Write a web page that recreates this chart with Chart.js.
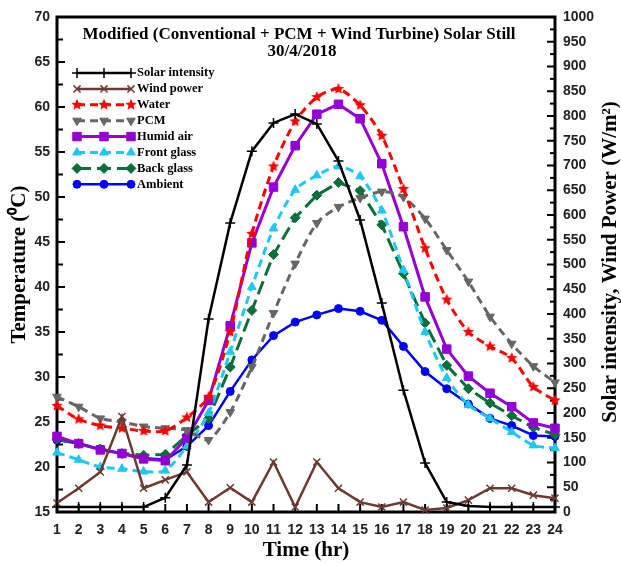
<!DOCTYPE html>
<html>
<head>
<meta charset="utf-8">
<script src="https://cdn.jsdelivr.net/npm/chart.js@4.4.1/dist/chart.umd.min.js"></script>
<style>
html,body{margin:0;padding:0;background:#fff;}
#wrap{width:621px;height:563px;}
</style>
</head>
<body>
<div id="wrap"><canvas id="c" width="621" height="563"></canvas></div>
<script>
// ---- data ----
const hours = [1,2,3,4,5,6,7,8,9,10,11,12,13,14,15,16,17,18,19,20,21,22,23,24];
const solarIntensity = [10,10,10,10,10,29,95,390,584,729,786,804,784,709,590,422,246,99,20,12,10,10,10,10];
const windPower      = [18,48,81,193,48,65,81,20,49,20,101,10,101,48,20,10,20,4,8,24,48,48,34,28];
const waterTemp      = [26.8,25.3,24.6,24.3,24.0,24.0,25.5,27.8,35.0,45.9,53.4,58.4,61.1,62.0,60.2,56.8,50.9,44.3,38.6,35.0,33.4,32.1,28.9,27.4];
const pcmTemp        = [27.8,26.7,25.4,25.0,24.5,24.3,24.1,23.0,26.1,31.1,37.1,42.6,47.1,48.9,49.9,50.6,50.0,47.6,44.1,40.6,36.7,33.7,31.2,29.4];
const humidAirTemp   = [23.4,22.6,21.9,21.5,20.9,20.7,23.2,27.4,35.7,44.9,51.1,55.7,59.2,60.3,58.7,53.7,46.7,38.9,33.1,30.1,28.2,26.7,24.9,24.3];
const frontGlassTemp = [21.6,20.8,20.0,19.8,19.5,19.6,22.3,26.0,32.8,40.0,46.5,50.8,52.4,53.4,52.3,48.5,41.9,35.0,29.9,26.9,25.4,23.9,22.4,22.1];
const backGlassTemp  = [23.1,22.6,22.0,21.5,21.3,21.4,23.5,25.4,31.1,37.4,43.6,47.7,50.2,51.6,50.7,46.9,41.5,36.0,31.3,28.7,27.1,25.7,24.4,23.6];
const ambientTemp    = [23.0,22.6,22.0,21.5,21.0,20.8,22.3,24.6,28.4,31.9,34.6,36.1,36.9,37.6,37.3,36.3,33.4,30.6,28.7,27.0,25.4,24.6,23.5,23.4];

const titleLines = ['Modified (Conventional + PCM + Wind Turbine) Solar Still', '30/4/2018'];
const xTitle = 'Time (hr)';
const yTitle = 'Temperature (\u2070C)';
const y1Title = 'Solar intensity, Wind Power (W/m\u00B2)';

// ---- marker images ----
function starImg(color, r) {
  const c = document.createElement('canvas');
  const s = Math.ceil(r * 2 + 2);
  c.width = s; c.height = s;
  const g = c.getContext('2d');
  g.fillStyle = color;
  g.beginPath();
  for (let i = 0; i < 10; i++) {
    const rr = i % 2 === 0 ? r : r * 0.45;
    const a = -Math.PI / 2 + i * Math.PI / 5;
    const px = s / 2 + rr * Math.cos(a), py = s / 2 + rr * Math.sin(a);
    if (i === 0) g.moveTo(px, py); else g.lineTo(px, py);
  }
  g.closePath(); g.fill();
  return c;
}
const redStar = starImg('#ff0000', 6);

const pts = arr => hours.map((h, i) => ({x: h, y: arr[i]}));

const datasets = [
  {label:'Solar intensity', data: pts(solarIntensity), yAxisID:'y1', borderColor:'#000', backgroundColor:'#000',
   borderWidth:2.5, pointStyle:'cross', pointRadius:5, pointBorderWidth:1.5, tension:0},
  {label:'Wind power', data: pts(windPower), yAxisID:'y1', borderColor:'#6b3a32', backgroundColor:'#6b3a32',
   borderWidth:2.5, pointStyle:'crossRot', pointRadius:5, pointBorderWidth:1.5, tension:0},
  {label:'Water', data: pts(waterTemp), yAxisID:'y', borderColor:'#ff0000', backgroundColor:'#ff0000',
   borderWidth:3, borderDash:[8,5], pointStyle:redStar, pointRadius:6, tension:0.25},
  {label:'PCM', data: pts(pcmTemp), yAxisID:'y', borderColor:'#666666', backgroundColor:'#666666',
   borderWidth:3, borderDash:[8,5], pointStyle:'triangle', rotation:180, pointRadius:5, pointBorderWidth:1, tension:0.25},
  {label:'Humid air', data: pts(humidAirTemp), yAxisID:'y', borderColor:'#9400d3', backgroundColor:'#9400d3',
   borderWidth:3, pointStyle:'rect', pointRadius:6, pointBorderWidth:1, tension:0},
  {label:'Front glass', data: pts(frontGlassTemp), yAxisID:'y', borderColor:'#1ec8f0', backgroundColor:'#1ec8f0',
   borderWidth:3, borderDash:[8,5], pointStyle:'triangle', pointRadius:5, pointBorderWidth:1, tension:0.25},
  {label:'Back glass', data: pts(backGlassTemp), yAxisID:'y', borderColor:'#0b6e3c', backgroundColor:'#0b6e3c',
   borderWidth:3, borderDash:[14,6], pointStyle:'rectRot', pointRadius:5, pointBorderWidth:1, tension:0},
  {label:'Ambient', data: pts(ambientTemp), yAxisID:'y', borderColor:'#0000ff', backgroundColor:'#0000ff',
   borderWidth:2.5, pointStyle:'circle', pointRadius:4, pointBorderWidth:1, tension:0}
];
datasets.forEach(d => { d.clip = false; d.pointBackgroundColor = d.backgroundColor; d.pointBorderColor = d.borderColor; });

const SERIF = "'Liberation Serif', 'Times New Roman', serif";
const SANS = "'Liberation Sans', Arial, sans-serif";

const framePlugin = {
  id: 'frame',
  beforeDatasetsDraw(chart) {
    const {ctx, chartArea: a, scales} = chart;
    ctx.save();
    ctx.strokeStyle = '#000';
    ctx.lineWidth = 2;
    const seg = (x1, y1, x2, y2) => { ctx.beginPath(); ctx.moveTo(x1, y1); ctx.lineTo(x2, y2); ctx.stroke(); };
    for (let v = 15; v <= 70; v += 2.5) {
      const p = scales.y.getPixelForValue(v);
      seg(a.left, p, a.left + (v % 5 === 0 ? 8 : 6), p);
    }
    for (let v = 0; v <= 1000; v += 25) {
      const p = scales.y1.getPixelForValue(v);
      seg(a.right - (v % 50 === 0 ? 8 : 5), p, a.right, p);
    }
    for (let h = 1; h <= 24; h++) {
      const p = scales.x.getPixelForValue(h);
      seg(p, a.bottom, p, a.bottom - 8);
    }
    ctx.lineWidth = 3;
    ctx.strokeRect(a.left, a.top, a.right - a.left, a.bottom - a.top);
    ctx.restore();
  },
  afterDraw(chart) {
    const {ctx, chartArea: a} = chart;
    ctx.save();
    // chart title inside plot
    ctx.fillStyle = '#000';
    ctx.textAlign = 'center';
    ctx.textBaseline = 'middle';
    ctx.font = 'bold 17px ' + SERIF;
    ctx.fillText(titleLines[0], 299, 35);
    ctx.fillText(titleLines[1], 302, 52);
    // right axis title (reads bottom-to-top)
    ctx.save();
    ctx.translate(611, 262);
    ctx.rotate(-Math.PI / 2);
    ctx.font = 'bold 21px ' + SERIF;
    ctx.fillText(y1Title, 0, 0);
    ctx.restore();
    // legend
    const x0 = 77, x1 = 131;
    chart.data.datasets.forEach((d, i) => {
      const yy = 73 + i * 15.9;
      ctx.save();
      ctx.strokeStyle = d.borderColor;
      ctx.fillStyle = d.backgroundColor;
      ctx.lineWidth = d.borderWidth;
      ctx.setLineDash(d.borderDash || []);
      ctx.beginPath(); ctx.moveTo(x0, yy); ctx.lineTo(x1, yy); ctx.stroke();
      ctx.setLineDash([]);
      ctx.lineWidth = d.pointBorderWidth || 1;
      [x0, (x0 + x1) / 2, x1].forEach(px => {
        Chart.helpers.drawPoint(ctx, {pointStyle: d.pointStyle, rotation: d.rotation || 0, radius: d.pointRadius, borderWidth: d.pointBorderWidth || 1}, px, yy);
      });
      ctx.restore();
      ctx.fillStyle = '#000';
      ctx.textAlign = 'left';
      ctx.textBaseline = 'middle';
      ctx.font = 'bold 12.5px ' + SERIF;
      ctx.fillText(d.label, 137, yy);
    });
    ctx.restore();
  }
};

const tickFont = { family: SANS, size: 14, weight: 'bold' };

new Chart(document.getElementById('c'), {
  type: 'line',
  data: { datasets },
  options: {
    responsive: false,
    animation: false,
    devicePixelRatio: 1,
    layout: { padding: { top: 17, left: 0, right: 0, bottom: 0 } },
    plugins: { legend: { display: false }, tooltip: { enabled: false }, title: { display: false } },
    scales: {
      x: {
        type: 'linear', position: 'bottom', min: 1, max: 24,
        grid: { display: false, drawTicks: false }, border: { display: false },
        ticks: { stepSize: 1, autoSkip: false, maxRotation: 0, padding: 10, color: '#222', font: tickFont, callback: v => String(v) },
        title: { display: true, text: xTitle, color: '#000', font: { family: SERIF, size: 21, weight: 'bold' }, padding: { top: 0, bottom: 0 } },
        afterFit(s) { s.height = 51; }
      },
      y: {
        type: 'linear', position: 'left', min: 15, max: 70,
        grid: { display: false, drawTicks: false }, border: { display: false },
        ticks: { stepSize: 5, autoSkip: false, padding: 7, color: '#222', font: tickFont, callback: v => String(v) },
        title: { display: true, text: yTitle, color: '#000', font: { family: SERIF, size: 21, weight: 'bold' }, padding: { top: 7, bottom: 0 } },
        afterFit(s) { s.width = 57; }
      },
      y1: {
        type: 'linear', position: 'right', min: 0, max: 1000,
        grid: { display: false, drawTicks: false }, border: { display: false },
        ticks: { stepSize: 50, autoSkip: false, padding: 8, color: '#222', font: tickFont, callback: v => String(v) },
        afterFit(s) { s.width = 66; }
      }
    }
  },
  plugins: [framePlugin]
});
</script>
</body>
</html>
